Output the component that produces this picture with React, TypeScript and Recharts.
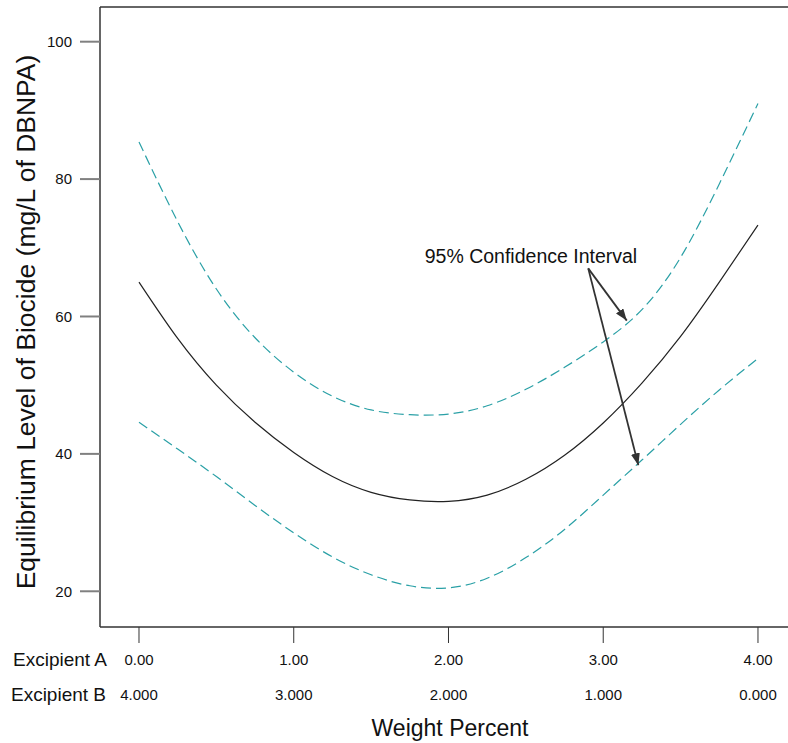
import { LineChart, Line, XAxis, YAxis, ReferenceLine, ReferenceDot } from 'recharts'

// weight percent of Excipient A (B = 4 - A)
const xValues = [0, 0.25, 0.5, 0.75, 1, 1.25, 1.5, 1.75, 2, 2.25, 2.5, 2.75, 3, 3.25, 3.5, 3.75, 4]
const predicted = [65.0, 56.8, 50.0, 44.6, 40.2, 36.7, 34.4, 33.3, 33.1, 34.0, 36.3, 39.8, 44.5, 50.3, 57.1, 65.0, 73.3]
const upperCI = [85.4, 73.8, 64.0, 56.9, 51.9, 48.4, 46.4, 45.7, 45.8, 47.0, 49.4, 52.6, 56.3, 61.0, 68.6, 79.3, 91.0]
const lowerCI = [44.6, 40.7, 36.7, 32.5, 28.5, 25.0, 22.4, 20.8, 20.5, 21.9, 24.9, 29.0, 34.0, 39.1, 44.3, 49.3, 53.9]

const xTicks = [0, 1, 2, 3, 4]
const tickLabelsA = ['0.00', '1.00', '2.00', '3.00', '4.00']
const tickLabelsB = ['4.000', '3.000', '2.000', '1.000', '0.000']
const yTicks = [20, 40, 60, 80, 100]

// annotation: label anchor and arrows (data coords)
const noteText = '95% Confidence Interval'
const notePos = { x: 2.533, y: 68.8 }
const arrowFrom = { x: 2.903, y: 67.0 }
const arrowTips = [
  { x: 3.152, y: 59.4 },
  { x: 3.227, y: 38.35 },
]

const data = xValues.map((x, i) => ({
  x,
  mid: predicted[i],
  upper: upperCI[i],
  lower: lowerCI[i],
}))

const FONT = '"Liberation Sans", Arial, Helvetica, sans-serif'
const TEAL = '#2aa0a6'
const AXIS = '#333333'

function XTick(props: any) {
  const { x, y, payload } = props
  const i = xTicks.indexOf(payload.value)
  return (
    <g fontFamily={FONT} fontSize={15} fill="#111">
      <text x={x} y={y + 14} textAnchor="middle" dominantBaseline="central">
        {tickLabelsA[i]}
      </text>
      <text x={x} y={y + 49} textAnchor="middle" dominantBaseline="central">
        {tickLabelsB[i]}
      </text>
    </g>
  )
}

function XLabels() {
  return (
    <g fontFamily={FONT} fill="#111">
      <text x={107} y={659} fontSize={19} textAnchor="end" dominantBaseline="central">
        Excipient A
      </text>
      <text x={106} y={694} fontSize={19} textAnchor="end" dominantBaseline="central">
        Excipient B
      </text>
      <text x={450} y={728} fontSize={23} textAnchor="middle" dominantBaseline="central">
        Weight Percent
      </text>
    </g>
  )
}

function YLabel() {
  return (
    <text
      x={26}
      y={322}
      transform="rotate(-90 26 322)"
      fontFamily={FONT}
      fontSize={26.5}
      fill="#111"
      textAnchor="middle"
      dominantBaseline="central"
    >
      Equilibrium Level of Biocide (mg/L of DBNPA)
    </text>
  )
}

export default function App() {
  return (
    <div style={{ position: 'absolute', left: 0, top: 0, width: 788, height: 743, background: '#fff' }}>
      <LineChart width={788} height={743} data={data} margin={{ top: 7, right: 0, bottom: 0, left: 0 }}>
        <defs>
          <marker
            id="arrowHead"
            viewBox="0 0 12 9"
            refX="12"
            refY="4.5"
            markerWidth="12"
            markerHeight="9"
            markerUnits="userSpaceOnUse"
            orient="auto"
          >
            <path d="M0,0 L12,4.5 L0,9 z" fill="#333" />
          </marker>
        </defs>
        <XAxis
          type="number"
          dataKey="x"
          domain={[-0.252, 4.194]}
          allowDataOverflow
          ticks={xTicks}
          height={116}
          tickSize={16}
          tick={<XTick />}
          tickLine={{ stroke: AXIS, strokeWidth: 1 }}
          axisLine={{ stroke: AXIS, strokeWidth: 1.5 }}
          label={() => <XLabels />}
        />
        <YAxis
          type="number"
          domain={[14.8, 105.05]}
          allowDataOverflow
          ticks={yTicks}
          width={100}
          tickSize={20}
          tickMargin={8}
          tick={{ fontFamily: FONT, fontSize: 15, fill: '#111' }}
          tickLine={{ stroke: '#808080', strokeWidth: 2 }}
          axisLine={{ stroke: AXIS, strokeWidth: 1.5 }}
          label={() => <YLabel />}
        />
        <ReferenceLine y={105.05} stroke={AXIS} strokeWidth={1.5} ifOverflow="visible" />
        <Line
          type="natural"
          dataKey="upper"
          stroke={TEAL}
          strokeWidth={1.2}
          strokeDasharray="10 5"
          dot={false}
          isAnimationActive={false}
        />
        <Line
          type="natural"
          dataKey="mid"
          stroke="#222"
          strokeWidth={1.2}
          dot={false}
          isAnimationActive={false}
        />
        <Line
          type="natural"
          dataKey="lower"
          stroke={TEAL}
          strokeWidth={1.2}
          strokeDasharray="10 5"
          dot={false}
          isAnimationActive={false}
        />
        {arrowTips.map((tip, i) => (
          <ReferenceLine
            key={i}
            segment={[arrowFrom, tip]}
            ifOverflow="visible"
            shape={(p: any) => (
              <line
                x1={p.x1}
                y1={p.y1}
                x2={p.x2}
                y2={p.y2}
                stroke="#333"
                strokeWidth={1.8}
                markerEnd="url(#arrowHead)"
              />
            )}
          />
        ))}
        <ReferenceDot
          x={notePos.x}
          y={notePos.y}
          r={0}
          ifOverflow="visible"
          shape={(p: any) => (
            <text
              x={p.cx}
              y={p.cy}
              fontFamily={FONT}
              fontSize={19.5}
              fill="#111"
              textAnchor="middle"
              dominantBaseline="central"
            >
              {noteText}
            </text>
          )}
        />
      </LineChart>
    </div>
  )
}
